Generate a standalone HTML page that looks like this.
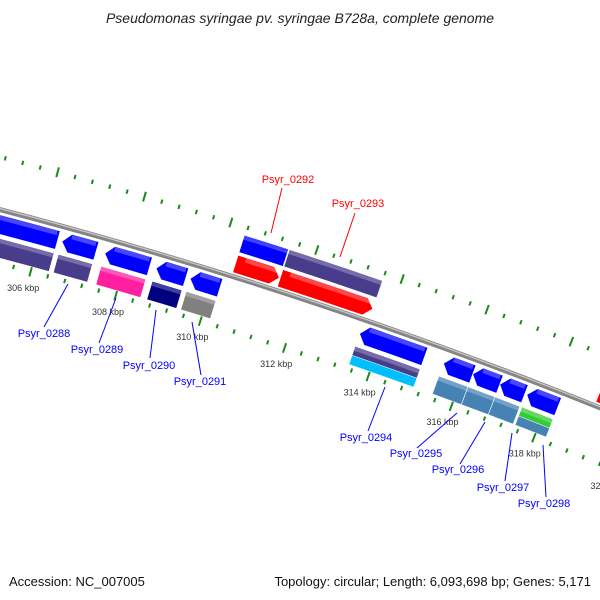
<!DOCTYPE html>
<html><head><meta charset="utf-8">
<style>
html,body{margin:0;padding:0;background:#fff;}
svg{display:block;font-family:"Liberation Sans","DejaVu Sans",sans-serif;}
</style></head>
<body>
<svg id="map" width="600" height="600" viewBox="0 0 600 600" xmlns="http://www.w3.org/2000/svg">
<rect width="600" height="600" fill="#fff"/>
<text x="300" y="23" text-anchor="middle" font-size="14" font-style="italic" fill="#222">Pseudomonas syringae pv. syringae B728a, complete genome</text>
<g id="rulers"></g>
<g id="backbone"></g>
<g id="features"></g>
<g id="labels"></g>
<text x="9" y="586" font-size="13" fill="#111">Accession: NC_007005</text>
<text x="591" y="586" text-anchor="end" font-size="13" fill="#111">Topology: circular; Length: 6,093,698 bp; Genes: 5,171</text>
</svg>
<script>
// gene data (kbp)
const geneNames = ["Psyr_0287","Psyr_0288","Psyr_0289","Psyr_0290","Psyr_0291","Psyr_0292","Psyr_0293","Psyr_0294","Psyr_0295","Psyr_0296","Psyr_0297","Psyr_0298","Psyr_0299"];
const geneStart = [302.0,306.5,307.5,308.7,309.5,310.37,311.42,313.5,315.5,316.2,316.85,317.5,319.0];
const geneEnd   = [306.4,307.3,308.55,309.4,310.2,311.4,313.6,315.05,316.2,316.85,317.45,318.25,321.0];
const geneStrand = [-1,-1,-1,-1,-1,1,1,-1,-1,-1,-1,-1,1];
const cogColorA = ["#483d8b","#483d8b","#ff1fa0","#000080","#808080","#0000ff","#483d8b","#483d8b","#4682b4","#4682b4","#4682b4","#32cd32",null];
const cogColorB = ["#483d8b","#483d8b","#ff1fa0","#000080","#808080","#0000ff","#483d8b","#00bfff","#4682b4","#4682b4","#4682b4","#4682b4",null];
const tickStart = 300.0, tickEnd = 324.0, tickStep = 0.4, labelStep = 2;
const labelGenes = ["Psyr_0288","Psyr_0289","Psyr_0290","Psyr_0291","Psyr_0292","Psyr_0293","Psyr_0294","Psyr_0295","Psyr_0296","Psyr_0297","Psyr_0298"];
const labelColor = ["#0000ff","#0000ff","#0000ff","#0000ff","#ff0000","#ff0000","#0000ff","#0000ff","#0000ff","#0000ff","#0000ff"];

const NS="http://www.w3.org/2000/svg";
const CX=-1265, CY=5047, T0=0.2828, K=0.00893;
function th(bp){return T0+(bp-308)*K;}
function pt(r,bp){const t=th(bp);return [CX+r*Math.sin(t), CY-r*Math.cos(t)];}
function f(p){return p[0].toFixed(2)+" "+p[1].toFixed(2);}
function mk(tag,attrs,parent){const e=document.createElementNS(NS,tag);for(const k in attrs)e.setAttribute(k,attrs[k]);parent.appendChild(e);return e;}

// rulers
const rul=document.getElementById('rulers');
const nT=Math.round((tickEnd-tickStart)/tickStep);
for(let i=0;i<=nT;i++){
  const bp=tickStart+i*tickStep;
  const major=Math.abs(bp/labelStep-Math.round(bp/labelStep))<1e-6;
  [[4948,major?5:2.2],[5051,major?5:2.2]].forEach(([rc,h])=>{
    const a=pt(rc-h,bp),b=pt(rc+h,bp);
    const l=mk('line',{x1:a[0],y1:a[1],x2:b[0],y2:b[1],stroke:'#1a8a1a','stroke-width':major?2:2},rul);
    
    
  });
  if(major){
    const p=pt(4931,bp);
    const t=mk('text',{x:p[0]-3,y:p[1]+3,'text-anchor':'middle','font-size':'9',fill:'#333'},rul);
    t.textContent=Math.round(bp)+" kbp";
    
    
  }
}

// backbone
const bb=document.getElementById('backbone');
function arcPath(r,b1,b2){const a=pt(r,b1),b=pt(r,b2);return "M"+f(a)+" A"+r+" "+r+" 0 0 1 "+f(b);}
const bl=mk('path',{d:arcPath(5000,tickStart,tickEnd),fill:'none',stroke:'#858585','stroke-width':5},bb);


const bh=mk('path',{d:arcPath(5001,tickStart,tickEnd),fill:'none',stroke:'#c8c8c8','stroke-width':1.3},bb);



// features
const fg=document.getElementById('features');
function band(r1,r2,b1,b2){ // r1 outer
  const a=pt(r1,b1),b=pt(r1,b2),c=pt(r2,b2),d=pt(r2,b1);
  return "M"+f(a)+" A"+r1+" "+r1+" 0 0 1 "+f(b)+" L"+f(c)+" A"+r2+" "+r2+" 0 0 0 "+f(d)+" Z";
}
function arrow(r1,r2,b1,b2,dir){
  const h=Math.min(0.18,(b2-b1)*0.5), rm=(r1+r2)/2;
  if(dir>0){
    const a=pt(r1,b1),b=pt(r1,b2-h),t=pt(rm,b2),c=pt(r2,b2-h),d=pt(r2,b1);
    return "M"+f(a)+" A"+r1+" "+r1+" 0 0 1 "+f(b)+" L"+f(t)+" L"+f(c)+" A"+r2+" "+r2+" 0 0 0 "+f(d)+" Z";
  } else {
    const t=pt(rm,b1),a=pt(r1,b1+h),b=pt(r1,b2),c=pt(r2,b2),d=pt(r2,b1+h);
    return "M"+f(t)+" L"+f(a)+" A"+r1+" "+r1+" 0 0 1 "+f(b)+" L"+f(c)+" A"+r2+" "+r2+" 0 0 0 "+f(d)+" Z";
  }
}
for(let i=0;i<geneNames.length;i++){
  const s=geneStart[i], e=geneEnd[i], fw=geneStrand[i]>0;
  const g=mk('g',{},fg);
  
  
  const cr1=fw?5022:4995, cr2=fw?5004:4976;
  const cds=mk('path',{d:arrow(cr1,cr2,s,e,geneStrand[i]),fill:fw?'#ff0000':'#0000ff',stroke:'#fff','stroke-width':0.6},g);
  
  
  const hl=mk('path',{d:band(cr1-0.5,cr1-5,s+0.19,e-0.05),fill:'#fff',opacity:0.28},g);
  
  
  if(cogColorA[i]){
    const o1=fw?5043:4972, o2=fw?5025:4953, om=(o1+o2)/2;
    if(cogColorA[i]===cogColorB[i]){
      const c=mk('path',{d:band(o1,o2,s,e),fill:cogColorA[i],stroke:'#fff','stroke-width':0.6},g);
      
      
    } else {
      const c1=mk('path',{d:band(o1,om,s,e),fill:cogColorA[i],stroke:'#fff','stroke-width':0.5},g);
      
      
      const c2=mk('path',{d:band(om,o2,s,e),fill:cogColorB[i],stroke:'#fff','stroke-width':0.5},g);
      
      
    }
    const h2=mk('path',{d:band(o1-0.5,o1-4.5,s,e),fill:'#fff',opacity:0.25},g);
    
    
  }
}

// gene labels with leader lines (positions of label boxes)
const labelPos = [[44,333,68,284,44,327],[97,349,116,298,99,343],[149,365,156,310,150,358],[200,381,192,322,201,375],
  [288,179,282,188,271,233],[358,203,355,213,340,257],[366,437,385,387,368,431],[416,453,457,413,417,448],
  [458,469,485,422,460,464],[503,487,512,433,505,481],[544,503,543,445,546,497]];
const lg=document.getElementById('labels');
labelGenes.forEach((n,i)=>{
  const p=labelPos[i];
  const g=mk('g',{},lg);
  
  
  const l=mk('line',{x1:p[2],y1:p[3],x2:p[4],y2:p[5],stroke:labelColor[i],'stroke-width':1},g);
  
  
  const t=mk('text',{x:p[0],y:p[1]+4,'text-anchor':'middle','font-size':'11',fill:labelColor[i]},g);
  t.textContent=n;
  
  
});
</script>
</body></html>
